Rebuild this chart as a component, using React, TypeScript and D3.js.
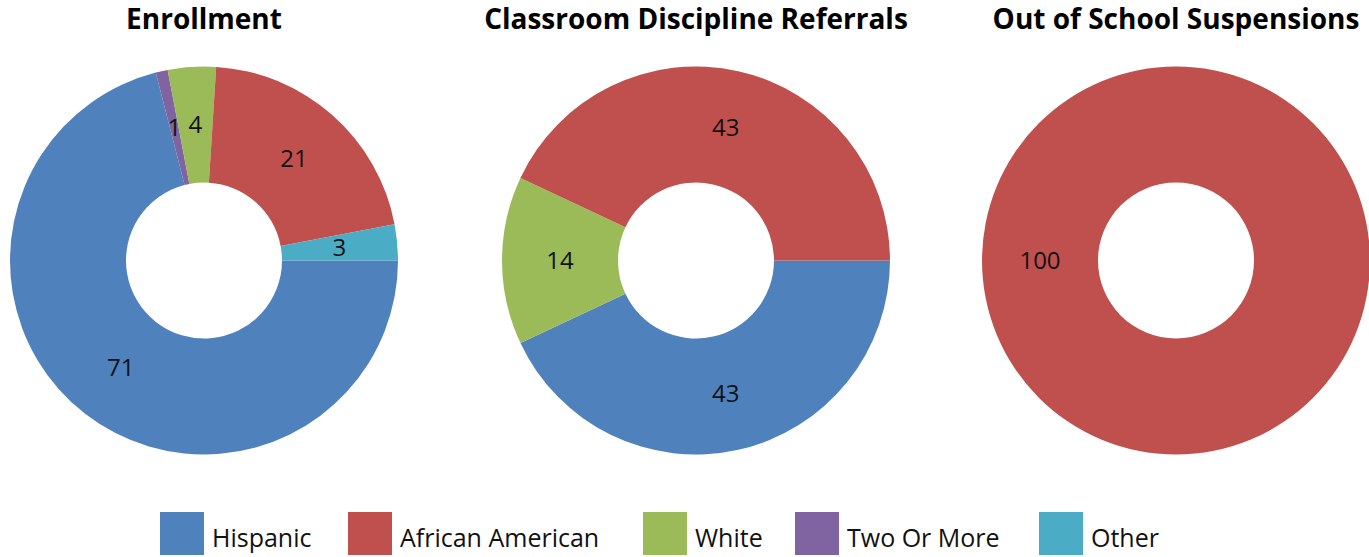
import React from "react";
import * as d3 from "d3";

const categories = ["Hispanic", "African American", "White", "Two Or More", "Other"];
const colors = ["#4F81BD", "#C0504D", "#9BBB59", "#8064A2", "#4BACC6"];

const chartTitles = ["Enrollment", "Classroom Discipline Referrals", "Out of School Suspensions"];
// slice order (clockwise from 3 o'clock) and values per chart
const enrollmentOrder = ["Hispanic", "Two Or More", "White", "African American", "Other"];
const enrollmentValues = [71, 1, 4, 21, 3];
const referralOrder = ["Hispanic", "White", "African American"];
const referralValues = [43, 14, 43];
const suspensionOrder = ["African American"];
const suspensionValues = [100];

const charts = [
  { title: chartTitles[0], cats: enrollmentOrder, vals: enrollmentValues, cx: 204 },
  { title: chartTitles[1], cats: referralOrder, vals: referralValues, cx: 696 },
  { title: chartTitles[2], cats: suspensionOrder, vals: suspensionValues, cx: 1176 },
];

const legendX = [160, 348, 643, 795, 1039];

const FONT = "'Open Sans', 'Noto Sans', sans-serif";

export default function App() {
  const W = 1369, H = 557;
  const cy = 260.5;
  const outer = 194, inner = 78;
  const color = d3.scaleOrdinal<string, string>().domain(categories).range(colors);
  const arc = d3.arc<d3.PieArcDatum<any>>().innerRadius(inner).outerRadius(outer);
  const pie = d3
    .pie<any>()
    .sort(null)
    .value((d: any) => d.v)
    .startAngle(Math.PI / 2)
    .endAngle(Math.PI / 2 + 2 * Math.PI);

  return (
    <svg width={W} height={H} style={{ position: "absolute", left: 0, top: 0, background: "#fff" }}>
      {charts.map((c, ci) => {
        const data = c.cats.map((k, i) => ({ k, v: c.vals[i] }));
        const arcs = pie(data);
        return (
          <g key={ci}>
            <text x={c.cx} y={29} textAnchor="middle" fontFamily={FONT} fontWeight="bold" fontSize={28} fill="#000">
              {c.title}
            </text>
            <g transform={`translate(${c.cx},${cy})`}>
              {arcs.map((a, i) => (
                <path key={i} d={arc(a) as string} fill={color(a.data.k)} />
              ))}
              {arcs.map((a, i) => {
                const [x, y] = arc.centroid(a);
                return (
                  <text key={"t" + i} x={x} y={y} dy="0.35em" textAnchor="middle" fontFamily={FONT} fontSize={24} fill="#111">
                    {a.data.v}
                  </text>
                );
              })}
            </g>
          </g>
        );
      })}
      {categories.map((k, i) => (
        <g key={k} transform={`translate(${legendX[i]},512)`}>
          <rect width={44} height={43} fill={color(k)} />
          <text x={52} y={35} fontFamily={FONT} fontSize={25} fill="#111">
            {k}
          </text>
        </g>
      ))}
    </svg>
  );
}
